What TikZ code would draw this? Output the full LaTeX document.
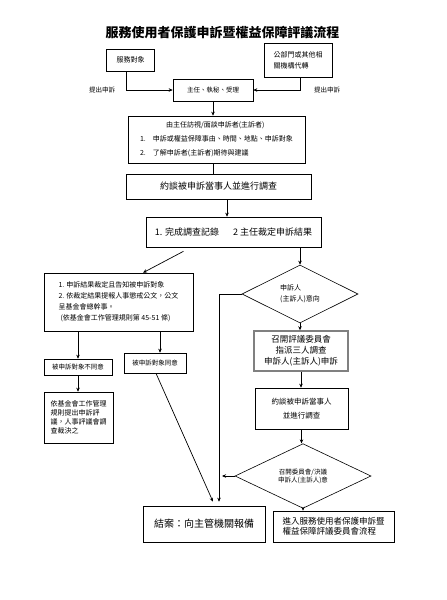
\documentclass[tikz,border=0pt]{standalone}
\usepackage{fontspec}
\setmainfont{Noto Sans CJK TC}
\usetikzlibrary{shapes.geometric}
\usetikzlibrary{arrows.meta}

\newcommand{\fsz}[2]{\fontsize{#1}{#2}\selectfont}

\begin{document}
\begin{tikzpicture}[x=1pt,y=-1pt,
  box/.style={draw,line width=0.6pt,inner sep=1pt,align=center},
  decision/.style={draw,diamond,line width=0.6pt,inner sep=0pt,align=center},
  flow/.style={-{Stealth[length=4pt,width=3.5pt]},line width=0.7pt},
  link/.style={line width=0.7pt}]

\useasboundingbox (0,0) rectangle (447,600);

\node[font=\fsz{13}{15}\bfseries] (title) at (222.5,33) {服務使用者保護申訴暨權益保障評議流程};

% top row
\node[box,minimum width=48,minimum height=22,font=\fsz{7}{9}] (obj) at (130.5,60) {服務對象};
\node[box,minimum width=68,minimum height=34,align=left,font=\fsz{7}{11}] (agency) at (298,60) {公部門或其他相\\關機構代轉};
\node[font=\fsz{6.5}{8}] (lsub) at (102,90) {提出申訴};
\node[font=\fsz{6.5}{8}] (rsub) at (327,90) {提出申訴};
\node[box,minimum width=80,minimum height=22,font=\fsz{6.5}{9}] (accept) at (213,90) {主任、執秘、受理};

\draw[flow] ([xshift=-4pt]obj.south) |- (accept.west);
\draw[flow] ([xshift=2pt]agency.south) |- (accept.east);

% middle column
\node[box,minimum width=177,minimum height=47,align=left,font=\fsz{7}{14}] (interview) at (216.5,139.5) {\hspace*{26pt}由主任訪視/面談申訴者(主訴者)\\1.\hspace{7pt}申訴或權益保障事由、時間、地點、申訴對象\\2.\hspace{7pt}了解申訴者(主訴者)期待與建議};
\node[box,minimum width=185,minimum height=25,font=\fsz{9}{11}] (investigate) at (218.5,186.5) {約談被申訴當事人並進行調查};
\node[box,minimum width=175,minimum height=30,font=\fsz{9}{11}] (result) at (233.5,232) {1. 完成調查記錄\hspace{14pt}2 主任裁定申訴結果};

\draw[flow] (accept.south) -- (accept.south |- interview.north);
\draw[link] (accept.south |- interview.south) -- (accept.south |- investigate.north);
\draw[flow] ([xshift=8.5pt]investigate.south) -- ([xshift=8.5pt]investigate.south |- result.north);

% left branch
\node[box,minimum width=149,minimum height=58,align=left,font=\fsz{7}{11}] (notify) at (118.5,302) {1. 申訴結果裁定且告知被申訴對象\\2. 依裁定結果提報人事懲戒公文，公文\\呈基金會總幹事。\\\hspace*{2pt}(依基金會工作管理規則第 45-51 條)};
\node[box,minimum width=68,minimum height=16,font=\fsz{6.5}{8}] (disagree) at (78,367) {被申訴對象不同意};
\node[box,minimum width=62,minimum height=20,font=\fsz{6.5}{8}] (agree) at (155,363) {被申訴對象同意};
\node[box,minimum width=69,minimum height=51,align=left,font=\fsz{7}{9}] (rules) at (78.5,417.5) {依基金會工作管理\\規則提出申訴評\\議，人事評議會調\\查裁決之};

\draw[flow] ([xshift=-50pt,yshift=-4pt]result.south) -- ([xshift=24.5pt]notify.north);
\draw[flow] (disagree.north |- notify.south) -- (disagree.north);
\draw[flow] ([xshift=5pt]agree.north |- notify.south) -- ([xshift=5pt]agree.north);
\draw[flow] (disagree.south) -- (disagree.south |- rules.north);

% right branch
\node[decision,minimum width=116,minimum height=52,align=left,font=\fsz{7}{11}] (ask) at (300,294) {申訴人\\(主訴人)意向};
\node[box,draw=gray,line width=1.4pt,minimum width=94,minimum height=40,font=\fsz{8.5}{11}] (committee) at (301,351) {召開評議委員會\\指派三人調查\\申訴人(主訴人)申訴};
\node[box,minimum width=93,minimum height=41,font=\fsz{7.5}{14}] (interview2) at (301.5,408.5) {約談被申訴當事人\\並進行調查};
\node[decision,minimum width=136,minimum height=46,font=\fsz{6.5}{8}] (decide) at (303,476) {召開委員會/決議\\申訴人(主訴人)意};

\draw[flow] (ask.north |- result.south) -- (ask.north);
\draw[flow] (ask.south) -- (ask.south |- committee.north);
\draw[flow] (committee.south) -- (committee.south |- interview2.north);
\draw[flow] (interview2.south) -- (interview2.south |- decide.north);

% bottom row
\node[box,minimum width=122,minimum height=36,font=\fsz{10}{12}] (close) at (204,524) {結案：向主管機關報備};
\node[box,minimum width=121,minimum height=31,align=left,font=\fsz{8.5}{10}] (enter) at (333.5,526.5) {進入服務使用者保護申訴暨\\權益保障評議委員會流程};

\coordinate (drop) at ([xshift=15pt,yshift=4pt]close.north);
\draw[flow] ([xshift=1pt]agree.south) -- ([xshift=9pt,yshift=4pt]close.north);
\draw[flow] (ask.west) -| (drop);
\draw[flow] (decide.west) -- ([xshift=3pt]decide.west -| drop);
\draw[flow] (decide.south) -- (decide.south |- enter.north);

\end{tikzpicture}
\end{document}
